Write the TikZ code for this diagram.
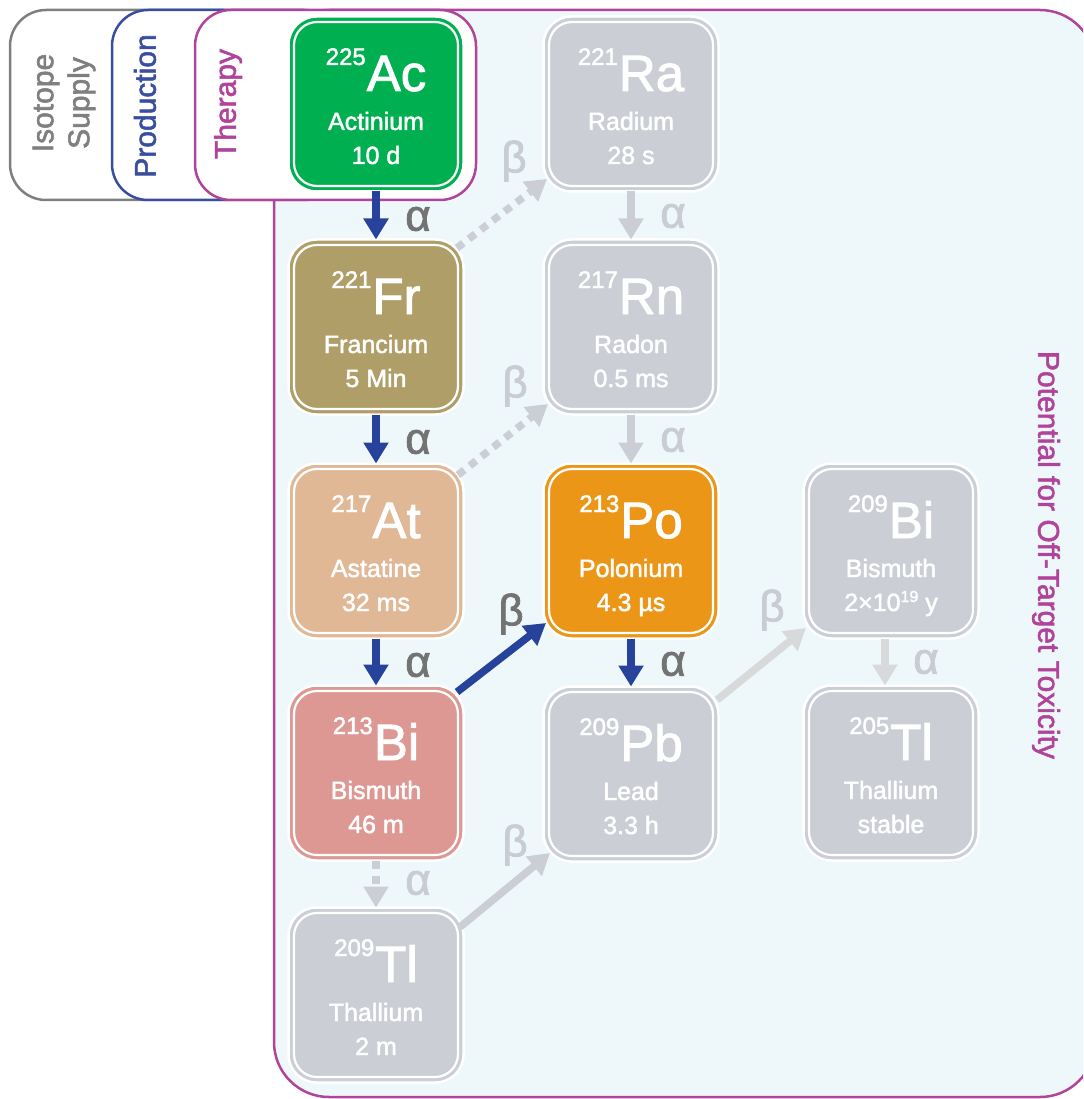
\documentclass[tikz,border=0pt]{standalone}
\usepackage{fontspec}
\setmainfont{Liberation Sans}[FakeBold=1.8]
\usetikzlibrary{arrows.meta}

\definecolor{panelbg}{HTML}{EEF8FB}
\definecolor{therapycol}{HTML}{B0449A}
\definecolor{prodcol}{HTML}{3A4EA0}
\definecolor{supplycol}{HTML}{7F7F7F}
\definecolor{acgreen}{HTML}{00B050}
\definecolor{frolive}{HTML}{B09E68}
\definecolor{atpeach}{HTML}{E0B896}
\definecolor{bipink}{HTML}{DE9894}
\definecolor{poorange}{HTML}{EC9618}
\definecolor{inactive}{HTML}{CBCFD5}
\definecolor{decayblue}{HTML}{27429B}
\definecolor{labeldark}{HTML}{737373}
\definecolor{labellight}{HTML}{C9CDD3}
\definecolor{arrowgray}{HTML}{CBCFD5}
\definecolor{arrowpale}{HTML}{D8D9DA}

\newcommand\fsz[1]{\fontsize{#1}{#1}\selectfont}

% one isotope tile: name, x, y, colour, mass number, symbol, element, half-life
\newcommand\isotope[8]{%
  \node[isobox=#4] (#1) at (#2,#3) {};
  \draw[isoinner] ([shift={(5.5,5.5)}]#1.north west) rectangle ([shift={(-5.5,-5.5)}]#1.south east);
  \node[isotext, anchor=base] (#1-sym) at (#2,#3-13) {\raisebox{26pt}{\fsz{24}#5}\kern1pt\fsz{51}#6};
  \node[isotext, anchor=base, font=\fsz{25}] (#1-name) at (#2,#3+26) {#7};
  \node[isotext, anchor=base, font=\fsz{25}] (#1-life) at (#2,#3+60) {#8};
}

\begin{document}
\begin{tikzpicture}[x=1pt,y=-1pt,
  isobox/.style={fill=#1, draw=white, line width=2.5pt, rounded corners=28pt,
    minimum width=175pt, minimum height=175pt, inner sep=0pt, outer sep=0pt},
  isoinner/.style={draw=white, line width=2.2pt, rounded corners=23pt},
  isotext/.style={text=white, inner sep=0pt},
  stagebox/.style={draw=#1, line width=2.5pt, fill=white, rounded corners=36pt},
  stagelabel/.style={rotate=90, text=#1, font=\fontsize{30}{36}\selectfont, inner sep=0pt, align=center},
  decay/.style={-{Triangle[width=24pt,length=21pt]}, line width=7.5pt},
  active/.style={decay, draw=decayblue},
  faint/.style={decay, draw=arrowgray},
  pale/.style={decay, draw=arrowpale},
  dotted arrow/.style={dash pattern=on 8pt off 7pt},
  lbl/.style={font=\fsz{44}, inner sep=0pt, text=#1},
]
\useasboundingbox (0,0) rectangle (1083,1099);
\clip (0,0) rectangle (1083,1099);

% off-target panel, its right side runs past the page edge
\draw[therapycol, line width=2.5pt, fill=panelbg, rounded corners=55pt]
  (274,10) rectangle (1095,1097);

% stages of the supply chain
\draw[stagebox=supplycol] (10,10) rectangle (260,200);
\draw[stagebox=prodcol] (112,10) rectangle (340,200);
\draw[stagebox=therapycol] (195,10) rectangle (476,200);

\node[stagelabel=supplycol] (supplylbl) at (64,103) {Isotope\\Supply};
\node[stagelabel=prodcol] (prodlbl) at (145,106) {Production};
\node[stagelabel=therapycol] (therapylbl) at (228,104) {Therapy};
\node[rotate=-90, text=therapycol, font=\fsz{30}, inner sep=0pt] (toxlbl) at (1046,555) {Potential for Off-Target Toxicity};

% decay chain tiles
\isotope{Ac}{376}{104}{acgreen}{225}{Ac}{Actinium}{10 d}
\isotope{Fr}{376}{327}{frolive}{221}{Fr}{Francium}{5 Min}
\isotope{At}{376}{551}{atpeach}{217}{At}{Astatine}{32 ms}
\isotope{Bia}{376}{773}{bipink}{213}{Bi}{Bismuth}{46 m}
\isotope{Tla}{376}{995}{inactive}{209}{Tl}{Thallium}{2 m}
\isotope{Ra}{631}{104}{inactive}{221}{Ra}{Radium}{28 s}
\isotope{Rn}{631}{327}{inactive}{217}{Rn}{Radon}{0.5 ms}
\isotope{Po}{631}{551}{poorange}{213}{Po}{Polonium}{4.3 µs}
\isotope{Pb}{631}{774}{inactive}{209}{Pb}{Lead}{3.3 h}
\isotope{Bib}{891}{551}{inactive}{209}{Bi}{Bismuth}{2×10\raisebox{9pt}{\fsz{16}19}\ y}
\isotope{Tlb}{891}{773}{inactive}{205}{Tl}{Thallium}{stable}

% main decay path
\draw[active] (Ac.south) -- (Fr.north);
\draw[active] (Fr.south) -- (At.north);
\draw[active] (At.south) -- (Bia.north);
\draw[active] ([shift={(-6.5,6.5)}]Bia.north east) -- ([shift={(2.5,-15.5)}]Po.south west);
\draw[active] (Po.south) -- (Pb.north);

% minor branches
\draw[faint, dotted arrow] ([shift={(-6.5,8.5)}]Fr.north east) -- ([shift={(3.5,-12.5)}]Ra.south west);
\draw[faint, dotted arrow] ([shift={(-5.5,11.5)}]At.north east) -- ([shift={(4.5,-10.5)}]Rn.south west);
\draw[faint, dotted arrow] (Bia.south) -- (Tla.north);
\draw[faint] (Ra.south) -- (Rn.north);
\draw[faint] (Rn.south) -- (Po.north);
\draw[faint] ([shift={(-3.5,19.5)}]Tla.north east) -- ([shift={(6.5,-8.5)}]Pb.south west);
\draw[pale] ([shift={(-1.5,13.5)}]Pb.north east) -- ([shift={(2.5,-10.5)}]Bib.south west);
\draw[pale] ([xshift=-6pt]Bib.south) -- ([xshift=-6pt]Tlb.north);

% decay mode labels
\node[lbl=labeldark] (a1) at (418,219) {α};
\node[lbl=labeldark] (a2) at (418,442) {α};
\node[lbl=labeldark] (a3) at (418,665) {α};
\node[lbl=labellight] (a4) at (418,883) {α};
\node[lbl=labellight] (a5) at (673,216) {α};
\node[lbl=labellight] (a6) at (673,440) {α};
\node[lbl=labeldark] (a7) at (673,664) {α};
\node[lbl=labellight] (a8) at (926,662) {α};
\node[lbl=labellight] (b1) at (514,161) {β};
\node[lbl=labellight] (b2) at (515,386) {β};
\node[lbl=labeldark] (b3) at (511,614) {β};
\node[lbl=labellight] (b4) at (515,845) {β};
\node[lbl=labellight] (b5) at (772,610) {β};
\end{tikzpicture}
\end{document}
